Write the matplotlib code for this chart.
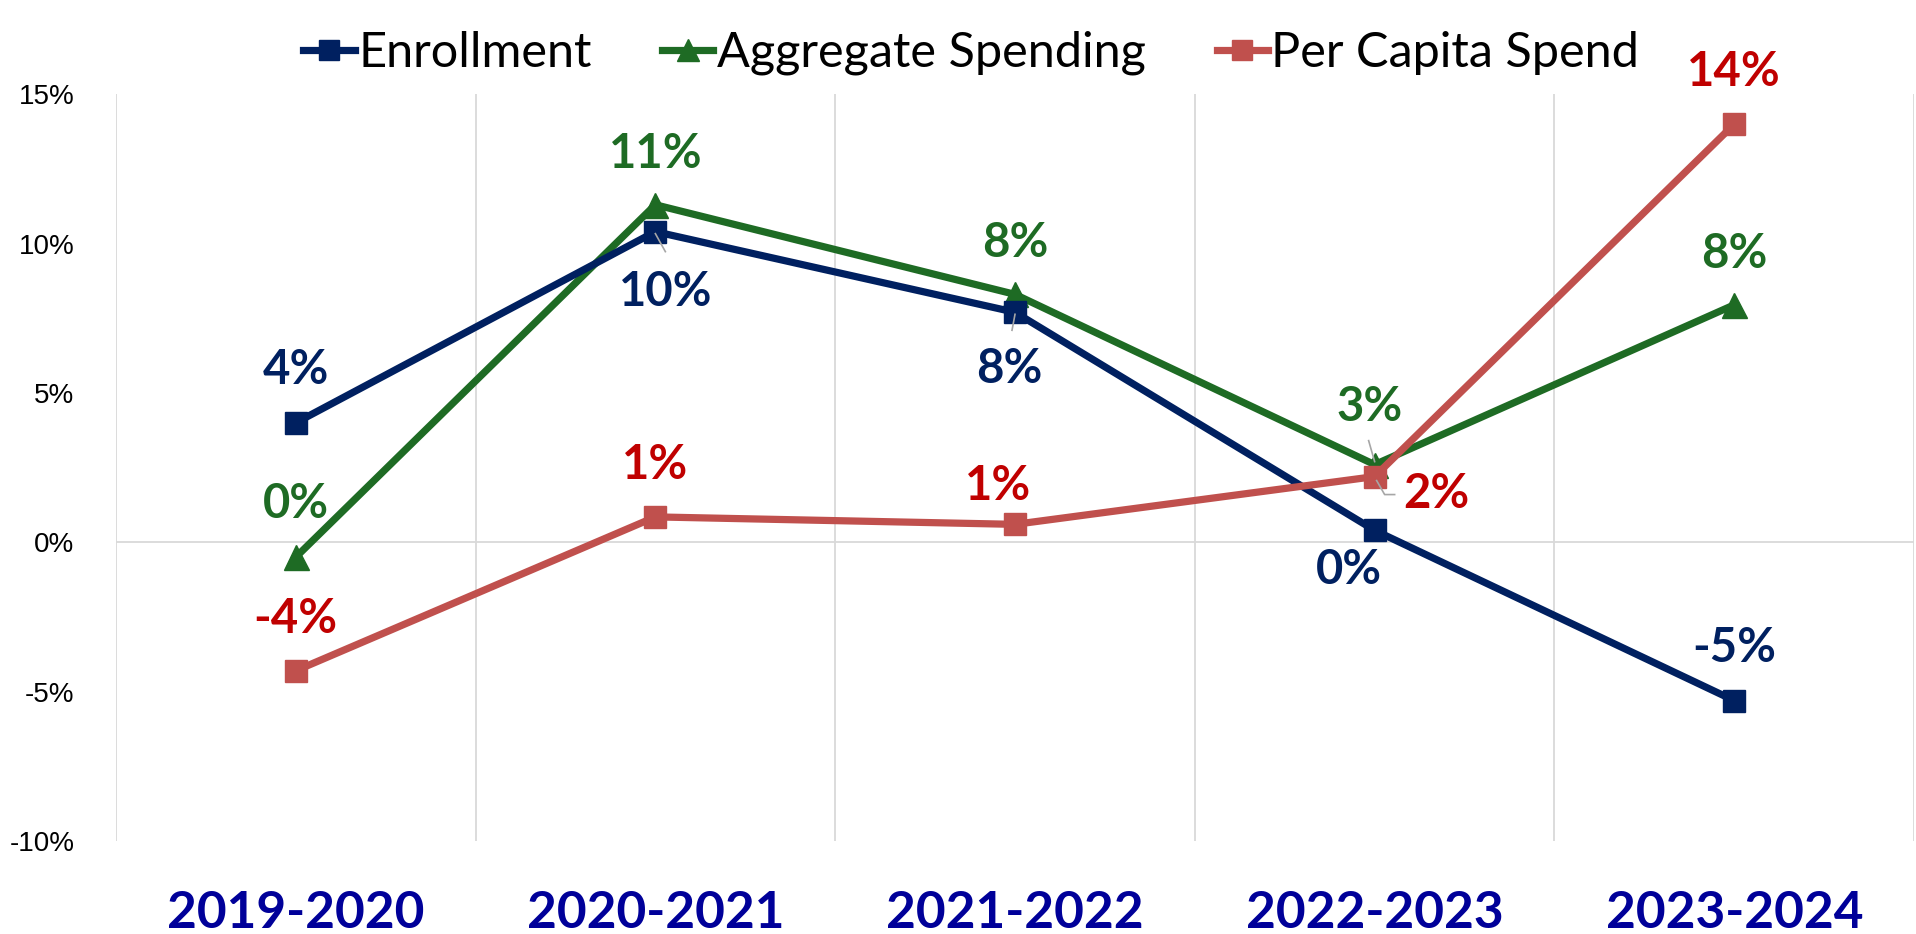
import matplotlib
matplotlib.use("Agg")
import matplotlib.pyplot as plt
from matplotlib.ticker import FuncFormatter

categories = ["2019-2020", "2020-2021", "2021-2022", "2022-2023", "2023-2024"]
enrollment = [4.0, 10.4, 7.7, 0.4, -5.3]
aggregate = [-0.5, 11.3, 8.3, 2.6, 7.95]
per_capita = [-4.3, 0.85, 0.6, 2.2, 14.0]
enroll_labels = ["4%", "10%", "8%", "0%", "-5%"]
aggregate_labels = ["0%", "11%", "8%", "3%", "8%"]
percap_labels = ["-4%", "1%", "1%", "2%", "14%"]

navy = "#002060"
green = "#1E6B24"
red_line = "#C0504D"
red_text = "#C00000"
xlab_color = "#000099"

fig = plt.figure(figsize=(19.16, 9.34), dpi=100)
ax = fig.add_axes([0.0605, 0.0996, 0.9385, 0.7995])

x = list(range(len(categories)))
lw = 5.2
ax.plot(x, enrollment, color=navy, lw=lw, marker="s", markersize=16,
        label="Enrollment", zorder=4, solid_joinstyle="round")
ax.plot(x, aggregate, color=green, lw=lw, marker="^", markersize=18,
        label="Aggregate Spending", zorder=3, solid_joinstyle="round")
ax.plot(x, per_capita, color=red_line, lw=lw, marker="s", markersize=16,
        label="Per Capita Spend", zorder=5, solid_joinstyle="round")

ax.set_xlim(-0.5, 4.5)
ax.set_ylim(-10, 15)
ax.set_yticks([-10, -5, 0, 5, 10, 15])
ax.yaxis.set_major_formatter(FuncFormatter(lambda v, p: f"{v:.0f}%"))
ax.set_xticks(x)
ax.set_xticklabels(categories, fontfamily="Lato", fontweight="bold",
                   fontsize=37, color=xlab_color)
for lab in ax.get_yticklabels():
    lab.set_fontfamily("Liberation Sans")
    lab.set_fontsize(20)
ax.tick_params(axis="x", length=0, pad=35)
ax.tick_params(axis="y", length=0, pad=30)
for s in ax.spines.values():
    s.set_visible(False)

# vertical gridlines at category boundaries and zero line
for b in [-0.5, 0.5, 1.5, 2.5, 3.5, 4.5]:
    ax.axvline(b, color="#D9D9D9", lw=1.3, zorder=1)
ax.axhline(0, color="#D9D9D9", lw=1.3, zorder=1)

label_font = dict(fontfamily="Lato", fontweight="bold", fontsize=34)

enroll_off = [(0, 53), (10, -60), (-6, -57), (-26, -40), (0, 53)]
aggr_off = [(0, 53), (0, 51), (0, 51), (-5, 58), (0, 51)]
percap_off = [(0, 52), (0, 52), (-17, 38), (62, -17), (0, 52)]

def label_series(vals, labels, offs, color):
    for xi, v, t, (dx, dy) in zip(x, vals, labels, offs):
        ax.annotate(t, (xi, v), xytext=(dx, dy), textcoords="offset pixels",
                    ha="center", va="center", color=color, zorder=6,
                    **label_font)

label_series(enrollment, enroll_labels, enroll_off, navy)
label_series(aggregate, aggregate_labels, aggr_off, green)
label_series(per_capita, percap_labels, percap_off, red_text)

# leader lines (small gray connectors)
def leader(xi, v, pts):
    px, py = ax.transData.transform((xi, v))
    inv = ax.transData.inverted()
    dpts = [inv.transform((px + a, py + b)) for a, b in pts]
    ax.plot([d[0] for d in dpts], [d[1] for d in dpts], color="#A6A6A6",
            lw=1.2, zorder=7)

fig.canvas.draw()
leader(1, enrollment[1], [(0, -2), (10, -20)])
leader(2, enrollment[2], [(0, -2), (-3, -18)])
leader(3, aggregate[3], [(-6, 24), (0, 3)])
leader(3, per_capita[3], [(2, -4), (10, -18), (20, -18)])

leg = fig.legend(loc="upper center", bbox_to_anchor=(0.507, 1.014), ncol=3,
                 frameon=False, prop={"family": "Lato", "size": 35},
                 handlelength=1.05, handletextpad=0.08, columnspacing=1.45,
                 markerscale=0.9)

fig.savefig("out.png", dpi=100)
